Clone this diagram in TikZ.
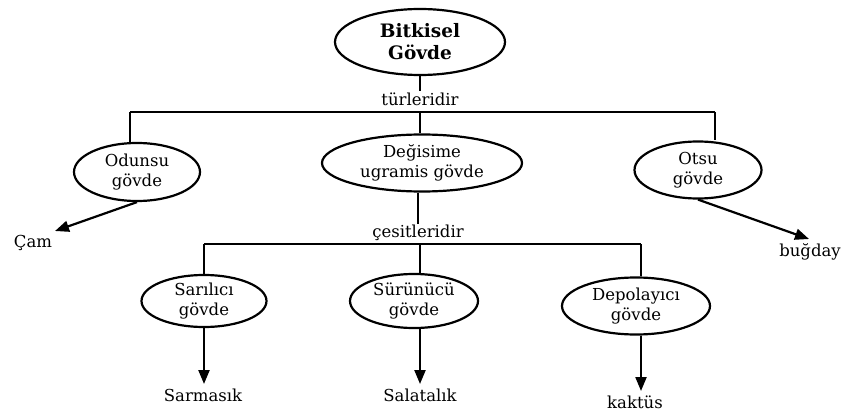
\documentclass[tikz,border=0pt]{standalone}
\usepackage{fontspec}
\setmainfont{DejaVu Serif}
\usetikzlibrary{shapes.geometric,arrows.meta}
\begin{document}
\begin{tikzpicture}[x=1pt,y=-1pt,
  every node/.style={font=\fontsize{16.5}{20}\selectfont, inner sep=1pt},
  oval/.style={ellipse, draw, line width=2.2pt, align=center, inner sep=0pt},
  link/.style={line width=2.2pt},
  arr/.style={line width=2.2pt, -{Triangle[length=14pt,width=11pt]}}]
\useasboundingbox (0,0) rectangle (845,414);

% root and its type split
\node[oval, minimum width=170, minimum height=66, font=\bfseries\fontsize{18.5}{22}\selectfont] (root) at (420,42) {Bitkisel\\Gövde};
\node (tur) at (420,99) {türleridir};
\coordinate (barL) at (130,112);
\coordinate (barM) at (420,112);
\coordinate (barR) at (715,112);

\node[oval, minimum width=126, minimum height=58] (odun) at (137,172) {Odunsu\\gövde};
\node[oval, minimum width=200, minimum height=57] (degis) at (422,163) {Değisime\\ugramis gövde};
\node[oval, minimum width=127, minimum height=57] (otsu) at (698,170) {Otsu\\gövde};

\node (cam) at (33,243) {Çam};
\coordinate (camtip) at (55,231);
\node (bugday) at (810,252) {buğday};
\coordinate (bugtip) at (809,239);

% variety split
\node (cesit) at (418,233) {çesitleridir};
\coordinate (subL) at (204,244);
\coordinate (subM) at (420,244);
\coordinate (subR) at (641,244);

\node[oval, minimum width=125, minimum height=52] (saril) at (204,301) {Sarılıcı\\gövde};
\node[oval, minimum width=128, minimum height=54] (surun) at (414,301) {Sürünücü\\gövde};
\node[oval, minimum width=148, minimum height=57] (depo) at (636,306) {Depolayıcı\\gövde};

\node (sarm) at (203,395) {Sarmasık};
\coordinate (sarmtip) at (204,384);
\node (salat) at (420,395) {Salatalık};
\coordinate (salattip) at (420,384);
\node (kakt) at (635,402) {kaktüs};
\coordinate (kakttip) at (641,391);

% connectors
\draw[link] (root) -- (tur);
\draw[link] (barL) -- (barR);
\draw[link] (barL) -- (barL |- odun.north);
\draw[link] (barM) -- (barM |- degis.north);
\draw[link] (barR) -- (barR |- otsu.north);

\draw[arr] (odun.south) -- (camtip);
\draw[arr] (otsu.south) -- (bugtip);

\draw[link] (degis.south -| cesit.north) -- (cesit.north);
\draw[link] (subL) -- (subR);
\draw[link] (subL) -- (subL |- saril.north);
\draw[link] (subM) -- (subM |- surun.north);
\draw[link] (subR) -- (subR |- depo.north);

\draw[arr] (saril.south) -- (sarmtip);
\draw[arr] (surun.south -| salattip) -- (salattip);
\draw[arr] (depo.south -| kakttip) -- (kakttip);
\end{tikzpicture}
\end{document}
